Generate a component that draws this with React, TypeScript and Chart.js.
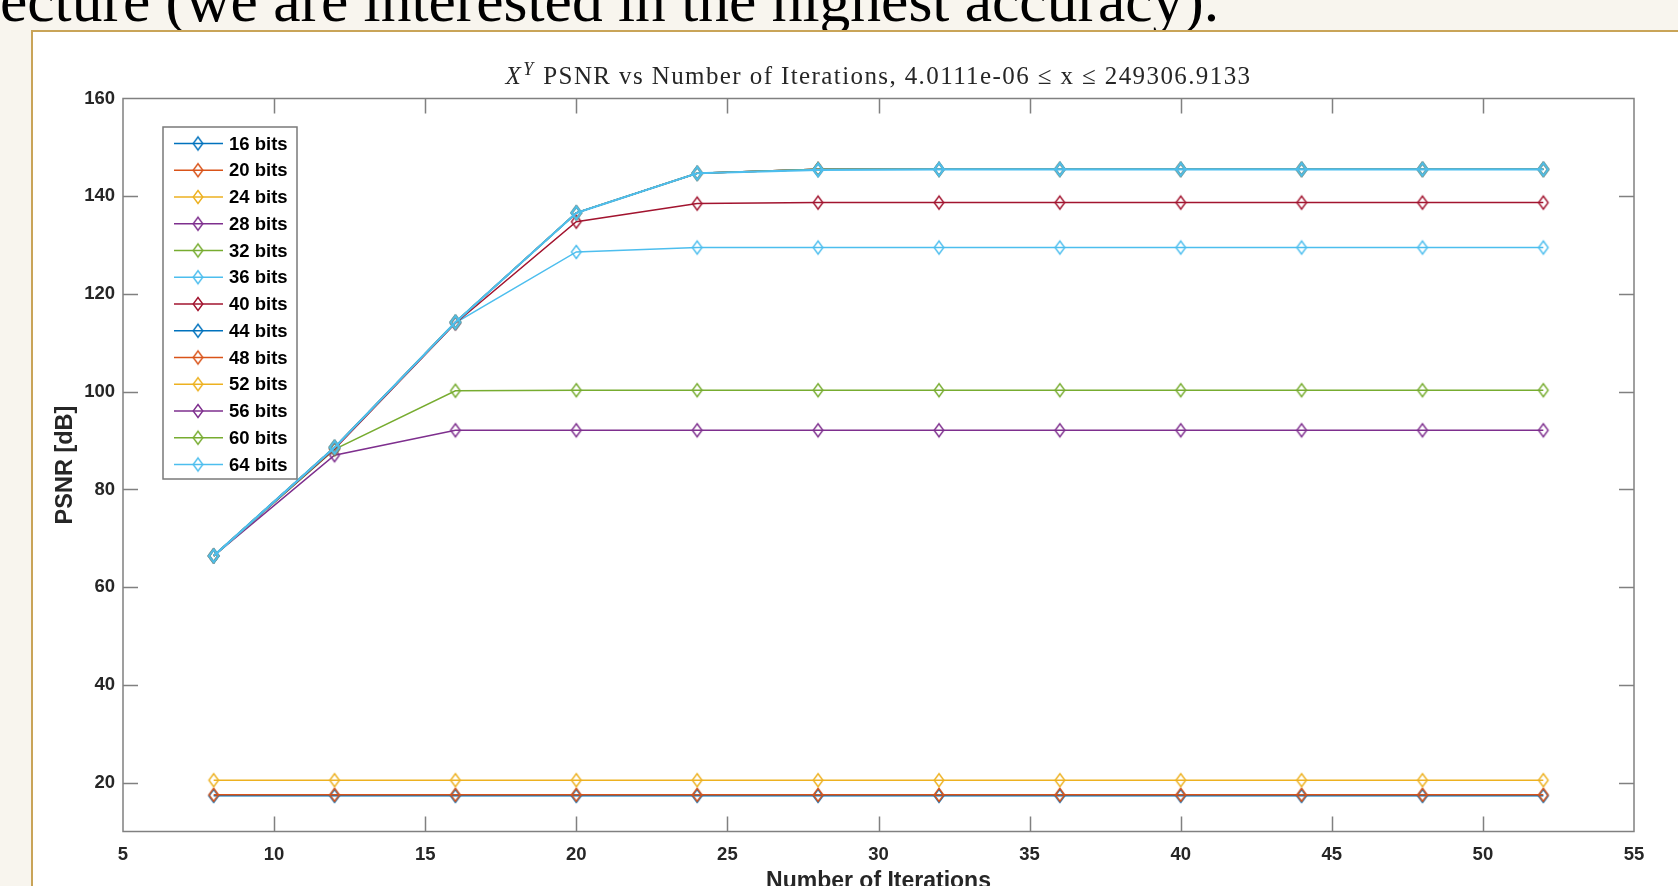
import React, { useEffect, useRef } from 'react';
import { Chart, registerables } from 'chart.js';

Chart.register(...registerables);

// ---------- data ----------
const ITERATIONS = [8, 12, 16, 20, 24, 28, 32, 36, 40, 44, 48, 52];
const SERIES_LABELS = ['16 bits', '20 bits', '24 bits', '28 bits', '32 bits', '36 bits', '40 bits', '44 bits', '48 bits', '52 bits', '56 bits', '60 bits', '64 bits'];

const PSNR_16 = [17.3, 17.3, 17.3, 17.3, 17.3, 17.3, 17.3, 17.3, 17.3, 17.3, 17.3, 17.3];
const PSNR_20 = [17.5, 17.5, 17.5, 17.5, 17.5, 17.5, 17.5, 17.5, 17.5, 17.5, 17.5, 17.5];
const PSNR_24 = [20.5, 20.5, 20.5, 20.5, 20.5, 20.5, 20.5, 20.5, 20.5, 20.5, 20.5, 20.5];
const PSNR_28 = [66.4, 87.0, 92.1, 92.1, 92.1, 92.1, 92.1, 92.1, 92.1, 92.1, 92.1, 92.1];
const PSNR_32 = [66.4, 88.2, 100.2, 100.3, 100.3, 100.3, 100.3, 100.3, 100.3, 100.3, 100.3, 100.3];
const PSNR_36 = [66.4, 88.5, 114.1, 128.6, 129.5, 129.5, 129.5, 129.5, 129.5, 129.5, 129.5, 129.5];
const PSNR_40 = [66.4, 88.3, 114.0, 134.8, 138.5, 138.7, 138.7, 138.7, 138.7, 138.7, 138.7, 138.7];
const PSNR_44 = [66.4, 88.6, 114.2, 136.6, 144.7, 145.5, 145.5, 145.5, 145.5, 145.5, 145.5, 145.5];
const PSNR_48 = [66.4, 88.6, 114.2, 136.6, 144.7, 145.5, 145.5, 145.5, 145.5, 145.5, 145.5, 145.5];
const PSNR_52 = [66.4, 88.6, 114.2, 136.6, 144.7, 145.5, 145.5, 145.5, 145.5, 145.5, 145.5, 145.5];
const PSNR_56 = [66.4, 88.6, 114.2, 136.6, 144.7, 145.5, 145.5, 145.5, 145.5, 145.5, 145.5, 145.5];
const PSNR_60 = [66.4, 88.6, 114.2, 136.6, 144.7, 145.5, 145.5, 145.5, 145.5, 145.5, 145.5, 145.5];
const PSNR_64 = [66.4, 88.6, 114.2, 136.6, 144.7, 145.4, 145.5, 145.5, 145.5, 145.5, 145.5, 145.5];

const SERIES_VALUES = [PSNR_16, PSNR_20, PSNR_24, PSNR_28, PSNR_32, PSNR_36, PSNR_40, PSNR_44, PSNR_48, PSNR_52, PSNR_56, PSNR_60, PSNR_64];

const X_TICKS = [5, 10, 15, 20, 25, 30, 35, 40, 45, 50, 55];
const Y_TICKS = [20, 40, 60, 80, 100, 120, 140, 160];

const TITLE_BASE = 'X';
const TITLE_EXP = 'Y';
const TITLE_REST = ' PSNR vs Number of Iterations, 4.0111e-06 \u2264 x \u2264 249306.9133';
const X_TITLE = 'Number of Iterations';
const Y_TITLE = 'PSNR [dB]';
const SLIDE_TEXT = 'ecture (we are interested in the highest accuracy).';

// ---------- styles ----------
const MATLAB_COLORS = ['#0072BD', '#D95319', '#EDB120', '#7E2F8E', '#77AC30', '#4DBEEE', '#A2142F'];
const AXIS_COLOR = '#808080';
const LABEL_COLOR = '#262626';
const SANS = '"Liberation Sans", Arial, Helvetica, sans-serif';
const SERIF = '"Liberation Serif", "Times New Roman", serif';

function makeDiamond(color: string, lw: number): HTMLCanvasElement {
  const c = document.createElement('canvas');
  c.width = 14;
  c.height = 18;
  const g = c.getContext('2d')!;
  g.strokeStyle = color;
  g.lineWidth = lw;
  g.beginPath();
  g.moveTo(7, 2.5);
  g.lineTo(11.8, 9);
  g.lineTo(7, 15.5);
  g.lineTo(2.2, 9);
  g.closePath();
  g.stroke();
  return c;
}

const matlabPlugin = {
  id: 'matlabAxes',
  beforeDatasetsDraw(chart: any) {
    const { ctx, chartArea, scales } = chart;
    const { left, right, top, bottom } = chartArea;
    const tl = 15;
    ctx.save();
    ctx.strokeStyle = AXIS_COLOR;
    ctx.lineWidth = 1.5;
    ctx.beginPath();
    for (const t of scales.x.ticks) {
      const px = Math.round(scales.x.getPixelForValue(t.value)) + 0.5;
      if (px <= left + 2 || px >= right - 2) continue;
      ctx.moveTo(px, bottom);
      ctx.lineTo(px, bottom - tl);
      ctx.moveTo(px, top);
      ctx.lineTo(px, top + tl);
    }
    for (const t of scales.y.ticks) {
      const py = Math.round(scales.y.getPixelForValue(t.value)) + 0.5;
      if (py <= top + 2 || py >= bottom - 2) continue;
      ctx.moveTo(left, py);
      ctx.lineTo(left + tl, py);
      ctx.moveTo(right, py);
      ctx.lineTo(right - tl, py);
    }
    ctx.stroke();
    ctx.strokeRect(left, top, right - left, bottom - top);
    ctx.restore();
  },
  afterDraw(chart: any) {
    const { ctx, chartArea } = chart;
    const { left, right, top } = chartArea;
    ctx.save();
    // title
    const fs = 25;
    ctx.fillStyle = LABEL_COLOR;
    ctx.textBaseline = 'alphabetic';
    (ctx as any).letterSpacing = '1.4px';
    ctx.font = `italic ${fs}px ${SERIF}`;
    const wX = ctx.measureText(TITLE_BASE).width;
    ctx.font = `italic ${Math.round(fs * 0.7)}px ${SERIF}`;
    const wY = ctx.measureText(TITLE_EXP).width;
    ctx.font = `${fs}px ${SERIF}`;
    const wR = ctx.measureText(TITLE_REST).width;
    const total = wX + wY + 2 + wR;
    let tx = (left + right) / 2 - total / 2;
    const ty = top - 15;
    ctx.font = `italic ${fs}px ${SERIF}`;
    ctx.fillText(TITLE_BASE, tx, ty);
    tx += wX + 1;
    ctx.font = `italic ${Math.round(fs * 0.7)}px ${SERIF}`;
    ctx.fillText(TITLE_EXP, tx, ty - 9);
    tx += wY + 1;
    ctx.font = `${fs}px ${SERIF}`;
    ctx.fillText(TITLE_REST, tx, ty);
    (ctx as any).letterSpacing = '0px';

    // legend
    const bx = left + 40;
    const by = top + 28.5;
    const bw = 134;
    const bh = 352;
    ctx.fillStyle = '#ffffff';
    ctx.fillRect(bx, by, bw, bh);
    ctx.strokeStyle = '#7a7a7a';
    ctx.lineWidth = 1.5;
    ctx.strokeRect(bx, by, bw, bh);
    ctx.font = `bold 18.5px ${SANS}`;
    ctx.textBaseline = 'middle';
    chart.data.datasets.forEach((ds: any, i: number) => {
      const cy = by + 16.5 + i * 26.75;
      ctx.strokeStyle = ds.borderColor;
      ctx.lineWidth = 1.5;
      ctx.beginPath();
      ctx.moveTo(bx + 11, cy);
      ctx.lineTo(bx + 60, cy);
      ctx.stroke();
      const img = makeDiamond(ds.borderColor, 1.4);
      ctx.drawImage(img, bx + 35 - img.width / 2, cy - img.height / 2);
      ctx.fillStyle = '#000000';
      ctx.fillText(ds.label, bx + 66, cy + 1);
    });
    ctx.restore();
  },
};

export default function App() {
  const canvasRef = useRef<HTMLCanvasElement | null>(null);

  useEffect(() => {
    document.body.style.margin = '0';
    const canvas = canvasRef.current!;
    const n = SERIES_LABELS.length;
    const datasets = SERIES_LABELS.map((label, i) => {
      const color = MATLAB_COLORS[i % MATLAB_COLORS.length];
      const isLast = i === n - 1;
      return {
        label,
        data: ITERATIONS.map((x, j) => ({ x, y: SERIES_VALUES[i][j] })),
        borderColor: color,
        backgroundColor: color,
        borderWidth: isLast ? 2.2 : 1.5,
        pointStyle: makeDiamond(color, isLast ? 2.2 : 1.4),
        pointRadius: 6,
        tension: 0,
        order: n - i,
      };
    });
    const chart = new Chart(canvas, {
      type: 'line',
      data: { datasets },
      plugins: [matlabPlugin],
      options: {
        animation: false,
        responsive: false,
        devicePixelRatio: 1,
        layout: { padding: { left: 0, right: 44, top: 66.5, bottom: 0 } },
        plugins: { legend: { display: false }, title: { display: false }, tooltip: { enabled: false } },
        scales: {
          x: {
            type: 'linear',
            min: 5,
            max: 55,
            afterBuildTicks: (s: any) => { s.ticks = X_TICKS.map((v) => ({ value: v })); },
            afterFit: (s: any) => { s.height = 100.5; },
            grid: { display: false, drawTicks: false },
            border: { display: false },
            ticks: { color: LABEL_COLOR, font: { family: SANS, size: 18.5, weight: 'bold' }, padding: 12, maxRotation: 0 },
            title: { display: true, text: X_TITLE, color: LABEL_COLOR, font: { family: SANS, size: 23, weight: 'bold' }, padding: { top: 0, bottom: 37 } },
          },
          y: {
            type: 'linear',
            min: 10,
            max: 160,
            afterBuildTicks: (s: any) => { s.ticks = Y_TICKS.map((v) => ({ value: v })); },
            afterFit: (s: any) => { s.width = 90; },
            grid: { display: false, drawTicks: false },
            border: { display: false },
            ticks: { color: LABEL_COLOR, font: { family: SANS, size: 18.5, weight: 'bold' }, padding: 8 },
            title: { display: true, text: Y_TITLE, color: LABEL_COLOR, font: { family: SANS, size: 23.5, weight: 'bold' }, padding: { top: 18, bottom: 0 } },
          },
        },
      },
    } as any);
    return () => chart.destroy();
  }, []);

  return (
    <div style={{ position: 'fixed', left: 0, top: 0, width: 1678, height: 886, overflow: 'hidden', background: '#f8f5ee' }}>
      <div style={{ position: 'absolute', left: 0, top: -30, whiteSpace: 'nowrap', fontFamily: SERIF, fontSize: 61.5, lineHeight: '61px', color: '#000' }}>
        {SLIDE_TEXT}
      </div>
      <div style={{ position: 'absolute', left: 31, top: 30, width: 1660, height: 880, background: '#ffffff', borderLeft: '2px solid #c9a458', borderTop: '2px solid #c9a458' }} />
      <canvas ref={canvasRef} width={1645} height={900} style={{ position: 'absolute', left: 33, top: 32, width: 1645, height: 900 }} />
    </div>
  );
}
